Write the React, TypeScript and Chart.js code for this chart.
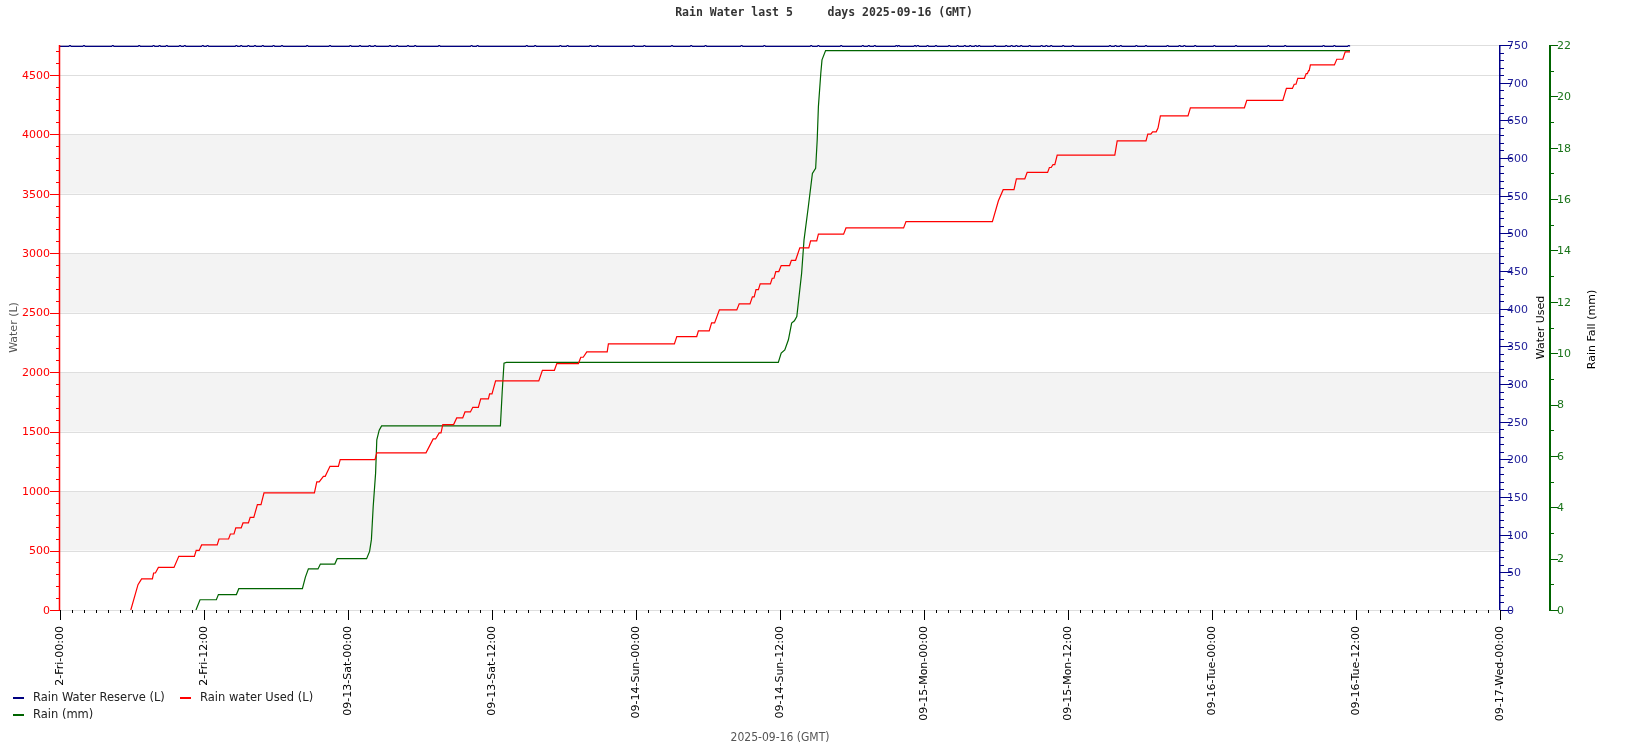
import React, { useEffect, useRef } from "react";
import { Chart, registerables } from "chart.js";

Chart.register(...registerables);

const TITLE = "Rain Water last 5     days 2025-09-16 (GMT)";
const X_TITLE = "2025-09-16 (GMT)";
const LEFT_TITLE = "Water (L)";
const USED_TITLE = "Water Used";
const RAIN_TITLE = "Rain Fall (mm)";

const xTickHours = [0, 12, 24, 36, 48, 60, 72, 84, 96, 108, 120];
const xTickLabels = [
  "2-Fri-00:00",
  "2-Fri-12:00",
  "09-13-Sat-00:00",
  "09-13-Sat-12:00",
  "09-14-Sun-00:00",
  "09-14-Sun-12:00",
  "09-15-Mon-00:00",
  "09-15-Mon-12:00",
  "09-16-Tue-00:00",
  "09-16-Tue-12:00",
  "09-17-Wed-00:00",
];
const waterTicks = [0, 500, 1000, 1500, 2000, 2500, 3000, 3500, 4000, 4500];
const usedTicks = [0, 50, 100, 150, 200, 250, 300, 350, 400, 450, 500, 550, 600, 650, 700, 750];
const rainTicks = [0, 2, 4, 6, 8, 10, 12, 14, 16, 18, 20, 22];

const X_MAX = 120;
const WATER_MAX = 4750;
const USED_MAX = 750;
const RAIN_MAX = 22;

// Rain water used (L)
const usedHours = [
  5.9, 6.5, 6.8, 7.7, 7.8, 7.95, 8.2, 9.5, 9.9, 11.2, 11.35, 11.6, 11.8, 13.1, 13.25, 14.05, 14.2, 14.5, 14.65,
  15.1, 15.25, 15.7, 15.85, 16.15, 16.45, 16.75, 17.0, 21.2, 21.4, 21.6, 21.95, 22.1, 22.5, 23.2, 23.35, 26.25,
  26.4, 30.5, 31.1, 31.3, 31.6, 31.75, 31.9, 32.8, 33.06, 33.56, 33.75, 34.2, 34.4, 34.86, 35.06, 35.7, 35.8, 36.0,
  36.3, 39.9, 40.2, 41.2, 41.4, 43.2, 43.4, 43.6, 43.9, 45.6, 45.7, 51.2, 51.4, 53.06, 53.2, 54.1, 54.3, 54.55,
  54.95, 56.4, 56.6, 57.5, 57.7, 57.85, 58.0, 58.2, 58.35, 59.2, 59.35, 59.5, 59.65, 59.9, 60.1, 60.8, 60.95, 61.3,
  61.65, 62.4, 62.55, 63.06, 63.2, 65.3, 65.5, 70.3, 70.5, 77.7, 78.2, 78.6, 79.5, 79.7, 80.4, 80.6, 82.3, 82.45,
  82.6, 82.75, 82.9, 83.1, 87.9, 88.1, 90.5, 90.65, 90.9, 91.05, 91.35, 91.5, 91.7, 94.0, 94.2, 98.7, 98.9, 101.9,
  102.2, 102.7, 102.85, 103.0, 103.15, 103.7, 103.85, 103.95, 104.05, 104.1, 104.2, 106.2, 106.4, 106.9, 107.1,
  107.5,
];
const usedLitres = [
  0, 213, 261, 261, 311, 311, 358, 358, 451, 451, 501, 501, 547, 547, 597, 597, 639, 639, 690,
  690, 732, 732, 779, 779, 886, 886, 984, 984, 1077, 1077, 1124, 1124, 1208, 1208, 1264, 1264,
  1321, 1321, 1438, 1438, 1489, 1489, 1559, 1559, 1615, 1615, 1665, 1665, 1704, 1704, 1775, 1775, 1817, 1817,
  1926, 1926, 2015, 2015, 2072, 2072, 2125, 2125, 2170, 2170, 2237, 2237, 2299, 2299, 2347, 2347, 2414, 2414,
  2523, 2523, 2574, 2574, 2633, 2633, 2694, 2694, 2742, 2742, 2789, 2789, 2845, 2845, 2896, 2896, 2940, 2940,
  3045, 3045, 3104, 3104, 3160, 3160, 3212, 3212, 3265, 3265, 3440, 3534, 3534, 3625, 3625, 3679, 3679, 3720,
  3720, 3745, 3745, 3825, 3825, 3944, 3944, 4000, 4000, 4020, 4020, 4052, 4154, 4154, 4222, 4222, 4285, 4285,
  4385, 4385, 4420, 4420, 4470, 4470, 4510, 4510, 4535, 4535, 4583, 4583, 4630, 4630, 4692,
  4692,
];

// Rain (mm)
const rainHours = [
  11.33, 11.67, 13.03, 13.2, 14.7, 14.9, 20.2, 20.45, 20.7, 21.5, 21.7, 22.9, 23.1, 25.55, 25.8, 25.95, 26.1,
  26.3, 26.4, 26.6, 26.8, 36.7, 36.85, 37.0, 37.2, 59.86, 60.1, 60.4, 60.7, 60.97, 61.2, 61.4, 61.8, 62.0, 62.36,
  62.7, 62.97, 63.1, 63.2, 63.4, 63.5, 63.8, 107.5,
];
const rainMm = [
  0, 0.4, 0.4, 0.6, 0.6, 0.83, 0.83, 1.28, 1.6, 1.6, 1.79, 1.79, 2.0, 2.0, 2.28, 2.74, 4.03,
  5.33, 6.63, 7.0, 7.17, 7.17, 8.5, 9.61, 9.64, 9.64, 10.0, 10.13, 10.52, 11.17, 11.26, 11.43, 13.1, 14.4, 15.7,
  17.0, 17.2, 18.3, 19.6, 20.9, 21.42, 21.78, 21.78,
];

// Rain water reserve (L): level with small upward blips
const reserveLevel = 4738;
const reserveBlipLevel = 4748;
const reserveEndHour = 107.5;
const reserveBlipHours = [
  0.83, 2.0, 4.4, 6.6, 7.8, 8.3, 8.9, 10.0, 10.4, 11.9, 12.3, 14.7, 15.1, 15.7, 16.25, 16.9, 17.8, 18.5, 20.6,
  22.5, 24.2, 25.0, 25.8, 26.25, 27.5, 28.1, 29.0, 29.6, 31.6, 34.3, 34.8, 38.9, 39.6, 41.7, 42.3, 44.2, 44.8,
  47.8, 48.7, 51.0, 52.6, 53.8, 56.8, 58.7, 62.6, 63.2, 65.1, 66.9, 67.4, 67.9, 69.7, 69.9, 71.25, 71.5, 72.3,
  73.0, 74.1, 74.8, 75.4, 75.85, 76.3, 76.6, 77.9, 78.85, 79.3, 79.7, 80.1, 80.8, 81.8, 82.2, 82.6, 83.6, 84.4,
  87.5, 87.96, 88.4, 89.7, 90.5, 92.3, 93.3, 93.7, 94.6, 96.2, 98.0, 100.7, 102.1, 105.3, 106.2, 107.4,
];

const RESERVE_COLOR = "#000080";
const USED_COLOR = "#ff0000";
const RAIN_COLOR = "#006400";

function buildReserve() {
  const pts: { x: number; y: number }[] = [{ x: 0, y: reserveLevel }];
  for (const h of reserveBlipHours) {
    pts.push({ x: h - 0.1, y: reserveLevel });
    pts.push({ x: h, y: reserveBlipLevel });
    pts.push({ x: h + 0.1, y: reserveLevel });
  }
  pts.push({ x: reserveEndHour, y: reserveLevel });
  return pts;
}

function rotText(ctx: CanvasRenderingContext2D, text: string, x: number, y: number, align: CanvasTextAlign) {
  ctx.save();
  ctx.translate(x, y);
  ctx.rotate(-Math.PI / 2);
  ctx.textAlign = align;
  ctx.textBaseline = "middle";
  ctx.fillText(text, 0, 0);
  ctx.restore();
}

const FONT = "11px 'DejaVu Sans', sans-serif";
const LEGEND_FONT = "11.5px 'DejaVu Sans', sans-serif";

const rrdPlugin = {
  id: "rrdAxes",
  beforeDatasetsDraw(chart: any) {
    const { ctx, chartArea: a, scales } = chart;
    const y = scales.y;
    ctx.save();
    ctx.fillStyle = "#f3f3f3";
    for (const v of waterTicks) {
      if ((v / 500) % 2 === 1 && v + 500 <= WATER_MAX) {
        const y1 = y.getPixelForValue(v);
        const y2 = y.getPixelForValue(v + 500);
        ctx.fillRect(a.left, y2, a.right - a.left, y1 - y2);
      }
    }
    ctx.strokeStyle = "#dedede";
    ctx.lineWidth = 1;
    for (const v of [...waterTicks, WATER_MAX]) {
      const py = Math.round(y.getPixelForValue(v)) + 0.5;
      ctx.beginPath();
      ctx.moveTo(a.left, py);
      ctx.lineTo(a.right, py);
      ctx.stroke();
    }
    ctx.restore();
  },
  afterDatasetsDraw(chart: any) {
    const { ctx, chartArea: a, scales } = chart;
    const x = scales.x;
    const y = scales.y;
    const yu = scales.yUsed;
    const yr = scales.yRain;
    ctx.save();
    ctx.font = FONT;

    // Left axis (red)
    const lx = a.left;
    ctx.strokeStyle = "#ff0000";
    ctx.lineWidth = 1.5;
    ctx.beginPath();
    ctx.moveTo(lx - 0.5, a.top);
    ctx.lineTo(lx - 0.5, a.bottom);
    ctx.stroke();
    ctx.lineWidth = 1;
    for (let v = 0; v < WATER_MAX; v += 100) {
      const py = Math.round(y.getPixelForValue(v)) + 0.5;
      const major = v % 500 === 0;
      ctx.beginPath();
      ctx.moveTo(major ? lx - 10 : lx - 4, py);
      ctx.lineTo(lx, py);
      ctx.stroke();
    }
    ctx.fillStyle = "#ff0000";
    ctx.textAlign = "right";
    ctx.textBaseline = "middle";
    for (const v of waterTicks) {
      ctx.fillText(String(v), lx - 10, y.getPixelForValue(v) + 1);
    }

    // Used axis (blue)
    const ux = a.right;
    ctx.strokeStyle = "#000088";
    ctx.lineWidth = 1.5;
    ctx.beginPath();
    ctx.moveTo(ux - 0.25, a.top);
    ctx.lineTo(ux - 0.25, a.bottom);
    ctx.stroke();
    ctx.lineWidth = 1;
    for (let v = 0; v <= USED_MAX; v += 10) {
      const py = Math.round(yu.getPixelForValue(v)) + 0.5;
      const major = v % 50 === 0;
      ctx.beginPath();
      ctx.moveTo(ux, py);
      ctx.lineTo(major ? ux + 12 : ux + 4, py);
      ctx.stroke();
    }
    ctx.fillStyle = "#22229a";
    ctx.textAlign = "left";
    for (const v of usedTicks) {
      ctx.fillText(String(v), ux + 7, yu.getPixelForValue(v) + 1);
    }

    // Rain axis (green)
    const rx = a.right + 50;
    ctx.strokeStyle = "#006400";
    ctx.lineWidth = 2;
    ctx.beginPath();
    ctx.moveTo(rx, a.top);
    ctx.lineTo(rx, a.bottom + 1);
    ctx.stroke();
    ctx.lineWidth = 1;
    for (let v = 0; v <= RAIN_MAX; v += 1) {
      const py = Math.round(yr.getPixelForValue(v)) + 0.5;
      const major = v % 2 === 0;
      ctx.beginPath();
      ctx.moveTo(rx, py);
      ctx.lineTo(major ? rx + 8 : rx + 4, py);
      ctx.stroke();
    }
    ctx.fillStyle = "#1a741a";
    for (const v of rainTicks) {
      ctx.fillText(String(v), rx + 7, yr.getPixelForValue(v) + 1);
    }

    // X axis ticks and labels
    ctx.strokeStyle = "#000000";
    for (let h = 0; h <= X_MAX; h += 1) {
      const px = Math.round(x.getPixelForValue(h)) + 0.5;
      const major = h % 12 === 0;
      ctx.beginPath();
      ctx.moveTo(px, a.bottom);
      ctx.lineTo(px, a.bottom + (major ? 10 : 3));
      ctx.stroke();
    }
    ctx.fillStyle = "#000000";
    xTickHours.forEach((h, i) => {
      rotText(ctx, xTickLabels[i], x.getPixelForValue(h), a.bottom + 16, "right");
    });

    // Axis titles
    ctx.fillStyle = "#555555";
    rotText(ctx, LEFT_TITLE, 14, (a.top + a.bottom) / 2, "center");
    ctx.fillStyle = "#000000";
    rotText(ctx, USED_TITLE, a.right + 41, (a.top + a.bottom) / 2, "center");
    rotText(ctx, RAIN_TITLE, a.right + 92, (a.top + a.bottom) / 2 + 2, "center");

    // X title
    ctx.fillStyle = "#555555";
    ctx.font = "12px 'DejaVu Sans Condensed', 'Liberation Sans Narrow', sans-serif";
    ctx.textAlign = "center";
    ctx.textBaseline = "middle";
    ctx.fillText(X_TITLE, (a.left + a.right) / 2, 738);

    // Title
    ctx.fillStyle = "#333333";
    ctx.font = "bold 11.5px 'DejaVu Sans Mono', monospace";
    ctx.fillText(TITLE, 824, 13);

    // Legend
    ctx.font = LEGEND_FONT;
    ctx.textAlign = "left";
    const ds = chart.data.datasets;
    const legendPos = [
      [13, 698],
      [180, 698],
      [13, 715],
    ];
    ds.forEach((d: any, i: number) => {
      const [lx0, ly0] = legendPos[i];
      ctx.strokeStyle = d.borderColor;
      ctx.lineWidth = 2;
      ctx.beginPath();
      ctx.moveTo(lx0, ly0);
      ctx.lineTo(lx0 + 11, ly0);
      ctx.stroke();
      ctx.fillStyle = "#222222";
      ctx.fillText(d.label, lx0 + 20, ly0);
    });
    ctx.restore();
  },
};

export default function App() {
  const ref = useRef<HTMLCanvasElement | null>(null);
  useEffect(() => {
    if (!ref.current) return;
    const chart = new Chart(ref.current, {
      type: "line",
      data: {
        datasets: [
          {
            label: "Rain Water Reserve (L)",
            data: buildReserve(),
            borderColor: RESERVE_COLOR,
            borderWidth: 1.2,
            yAxisID: "y",
            pointRadius: 0,
          },
          {
            label: "Rain water Used (L)",
            data: usedHours.map((h, i) => ({ x: h, y: usedLitres[i] })),
            borderColor: USED_COLOR,
            borderWidth: 1.2,
            yAxisID: "y",
            pointRadius: 0,
          },
          {
            label: "Rain (mm)",
            data: rainHours.map((h, i) => ({ x: h, y: rainMm[i] })),
            borderColor: RAIN_COLOR,
            borderWidth: 1.2,
            yAxisID: "yRain",
            pointRadius: 0,
          },
        ],
      },
      options: {
        responsive: false,
        animation: false,
        devicePixelRatio: 1,
        layout: { padding: { left: 60, top: 45, right: 150, bottom: 140 } },
        plugins: {
          legend: { display: false },
          title: { display: false },
          tooltip: { enabled: false },
        },
        elements: { line: { tension: 0, fill: false }, point: { radius: 0 } },
        scales: {
          x: { type: "linear", min: 0, max: X_MAX, display: false },
          y: { type: "linear", min: 0, max: WATER_MAX, display: false },
          yUsed: { type: "linear", min: 0, max: USED_MAX, display: false },
          yRain: { type: "linear", min: 0, max: RAIN_MAX, display: false },
        },
      },
      plugins: [rrdPlugin],
    } as any);
    return () => chart.destroy();
  }, []);
  return (
    <div style={{ position: "fixed", left: 0, top: 0, width: 1650, height: 750, background: "#fff" }}>
      <canvas ref={ref} width={1650} height={750} style={{ display: "block", width: 1650, height: 750 }} />
    </div>
  );
}
